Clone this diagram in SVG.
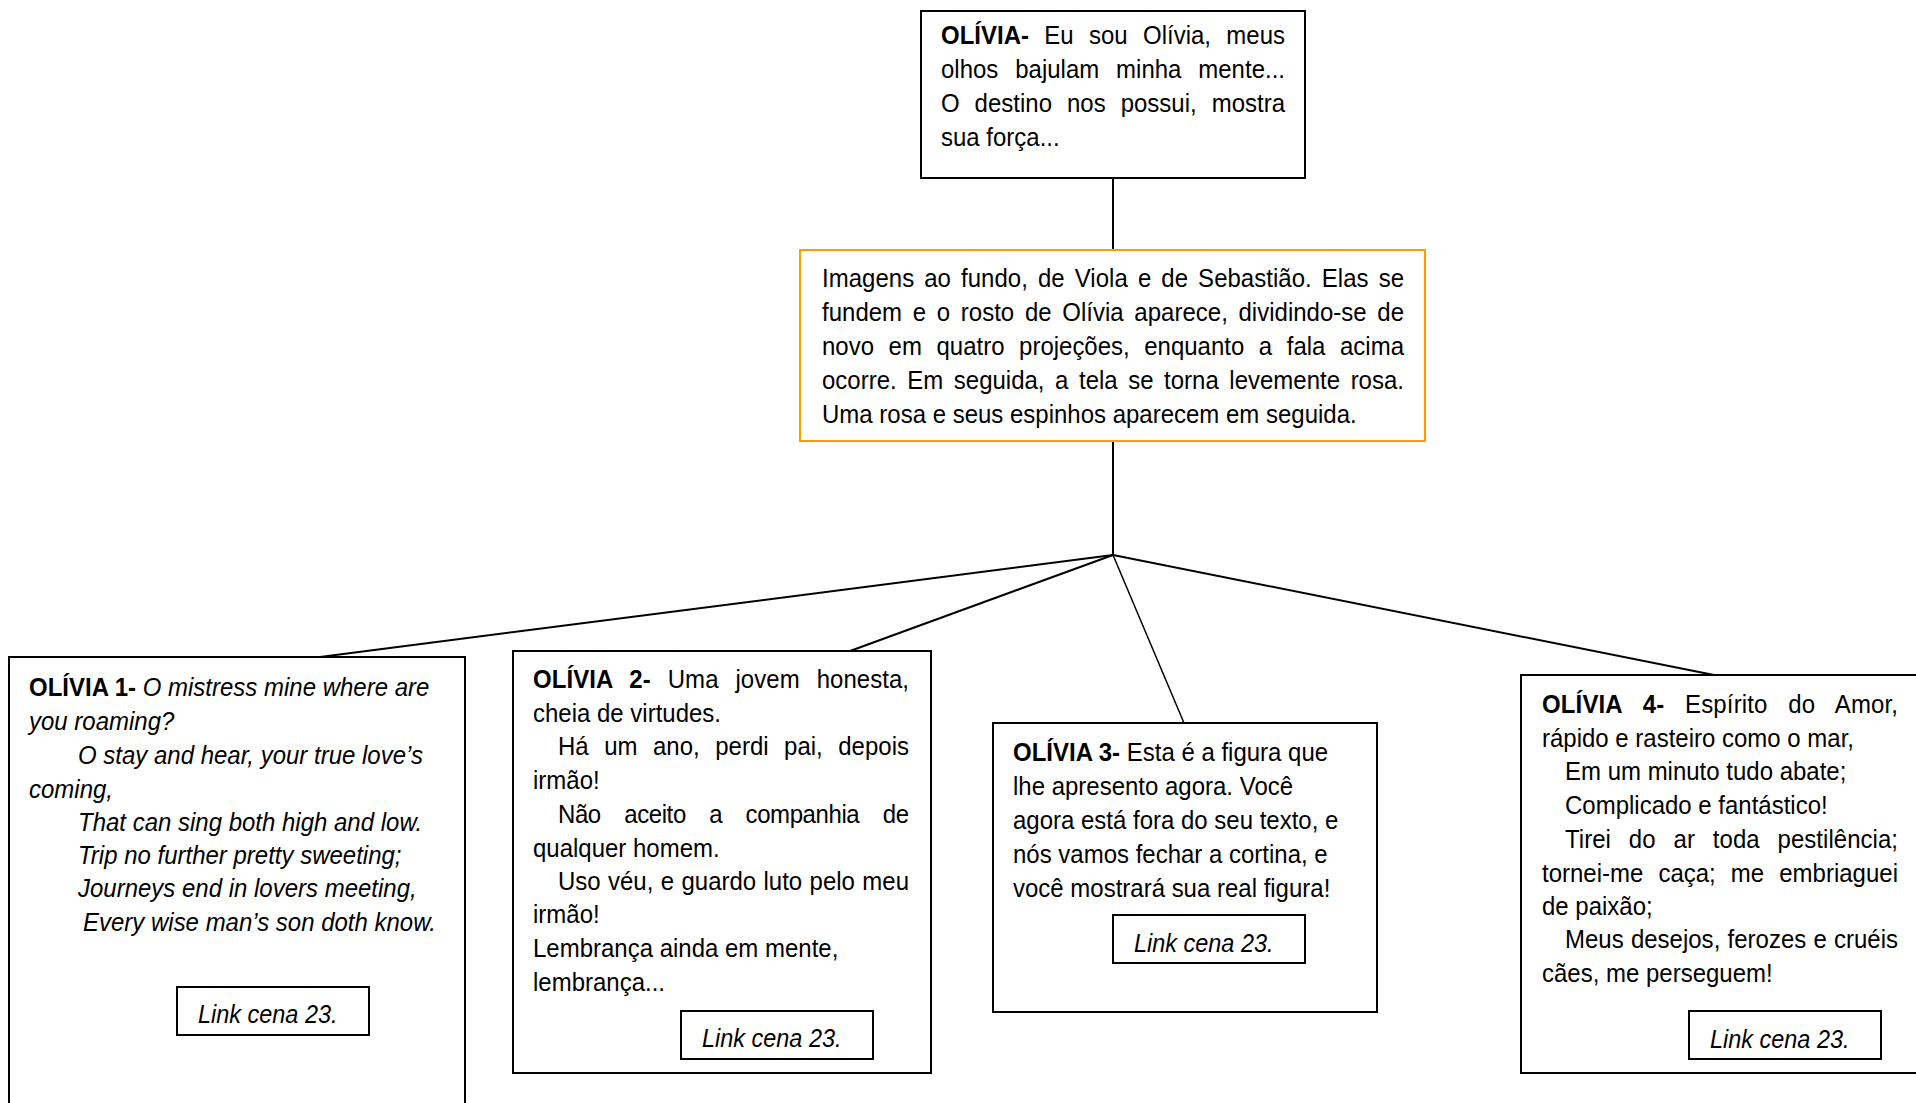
<svg xmlns="http://www.w3.org/2000/svg" width="1916" height="1103" viewBox="0 0 1916 1103">
<style>
.t{font-family:"Liberation Sans",Arial,sans-serif;font-size:25.5px;fill:#000}
.b{font-weight:bold}
.i{font-style:italic}
.box{fill:#fff;stroke:#000;stroke-width:2}
.obox{fill:#fff;stroke:#FF9A00;stroke-width:2}
.conn{stroke:#000;stroke-width:2;fill:none}
</style>
<rect width="1916" height="1103" fill="#fff"/>
<g id="connectors">
<path class="conn" d="M1113 178V250"/>
<path class="conn" d="M1113 441V555"/>
<path class="conn" d="M1113 555L320 657"/>
<path class="conn" d="M1113 555L850 651"/>
<path class="conn" d="M1113 555L1184 723" style="stroke-width:1.5"/>
<path class="conn" d="M1113 555L1714 675"/>
</g>
<g id="olivia">
<rect class="box" x="921" y="11" width="384" height="167"/>
<text class="t" transform="translate(941 44) scale(.941 1)" word-spacing="9.1" textLength="365.6" lengthAdjust="spacing"><tspan class="b">OLÍVIA-</tspan> Eu sou Olívia, meus</text>
<text class="t" transform="translate(941 78) scale(.941 1)" word-spacing="10.8" textLength="365.6" lengthAdjust="spacing">olhos bajulam minha mente...</text>
<text class="t" transform="translate(941 112) scale(.941 1)" word-spacing="8.8" textLength="365.6" lengthAdjust="spacing">O destino nos possui, mostra</text>
<text class="t" transform="translate(941 146) scale(.941 1)">sua força...</text>
</g>
<g id="cena">
<rect class="obox" x="800" y="250" width="625" height="191"/>
<text class="t" transform="translate(822 287) scale(.941 1)" word-spacing="3.6" textLength="618.5" lengthAdjust="spacing">Imagens ao fundo, de Viola e de Sebastião. Elas se</text>
<text class="t" transform="translate(822 321) scale(.941 1)" word-spacing="4.25" textLength="618.5" lengthAdjust="spacing">fundem e o rosto de Olívia aparece, dividindo-se de</text>
<text class="t" transform="translate(822 355) scale(.941 1)" word-spacing="8.4" textLength="618.5" lengthAdjust="spacing">novo em quatro projeções, enquanto a fala acima</text>
<text class="t" transform="translate(822 389) scale(.941 1)" word-spacing="4.1" textLength="618.5" lengthAdjust="spacing">ocorre. Em seguida, a tela se torna levemente rosa.</text>
<text class="t" transform="translate(822 423) scale(.941 1)">Uma rosa e seus espinhos aparecem em seguida.</text>
</g>
<g id="olivia1">
<rect class="box" x="9" y="657" width="456" height="470"/>
<text class="t" transform="translate(29 696) scale(.941 1)"><tspan class="b">OLÍVIA 1-</tspan><tspan class="i"> O mistress mine where are</tspan></text>
<text class="t i" transform="translate(29 730) scale(.941 1)">you roaming?</text>
<text class="t i" transform="translate(78 764) scale(.941 1)">O stay and hear, your true love’s</text>
<text class="t i" transform="translate(29 798) scale(.941 1)">coming,</text>
<text class="t i" transform="translate(78 831) scale(.941 1)">That can sing both high and low.</text>
<text class="t i" transform="translate(78 864) scale(.941 1)">Trip no further pretty sweeting;</text>
<text class="t i" transform="translate(78 897) scale(.941 1)">Journeys end in lovers meeting,</text>
<text class="t i" transform="translate(83 931) scale(.941 1)">Every wise man’s son doth know.</text>
<g id="link1">
<rect class="box" x="177" y="987" width="192" height="48"/>
<text class="t i" transform="translate(198 1023) scale(.92 1)">Link cena 23.</text>
</g>
</g>
<g id="olivia2">
<rect class="box" x="513" y="651" width="418" height="422"/>
<text class="t" transform="translate(533 688) scale(.941 1)" word-spacing="10.9" textLength="399.6" lengthAdjust="spacing"><tspan class="b">OLÍVIA 2-</tspan> Uma jovem honesta,</text>
<text class="t" transform="translate(533 722) scale(.941 1)">cheia de virtudes.</text>
<text class="t" transform="translate(558 755) scale(.941 1)" word-spacing="9.35" textLength="373" lengthAdjust="spacing">Há um ano, perdi pai, depois</text>
<text class="t" transform="translate(533 789) scale(.941 1)">irmão!</text>
<text class="t" transform="translate(558 823) scale(.941 1)" word-spacing="18.2" textLength="373" lengthAdjust="spacing">Não aceito a companhia de</text>
<text class="t" transform="translate(533 857) scale(.941 1)">qualquer homem.</text>
<text class="t" transform="translate(558 890) scale(.941 1)" word-spacing="0.74" textLength="373" lengthAdjust="spacing">Uso véu, e guardo luto pelo meu</text>
<text class="t" transform="translate(533 923) scale(.941 1)">irmão!</text>
<text class="t" transform="translate(533 957) scale(.941 1)">Lembrança ainda em mente,</text>
<text class="t" transform="translate(533 991) scale(.941 1)">lembrança...</text>
<g id="link2">
<rect class="box" x="681" y="1011" width="192" height="48"/>
<text class="t i" transform="translate(702 1047) scale(.92 1)">Link cena 23.</text>
</g>
</g>
<g id="olivia3">
<rect class="box" x="993" y="723" width="384" height="289"/>
<text class="t" transform="translate(1013 761) scale(.941 1)"><tspan class="b">OLÍVIA 3-</tspan> Esta é a figura que</text>
<text class="t" transform="translate(1013 795) scale(.941 1)">lhe apresento agora. Você</text>
<text class="t" transform="translate(1013 829) scale(.941 1)">agora está fora do seu texto, e</text>
<text class="t" transform="translate(1013 863) scale(.941 1)">nós vamos fechar a cortina, e</text>
<text class="t" transform="translate(1013 897) scale(.941 1)">você mostrará sua real figura!</text>
<g id="link3">
<rect class="box" x="1113" y="915" width="192" height="48"/>
<text class="t i" transform="translate(1134 952) scale(.92 1)">Link cena 23.</text>
</g>
</g>
<g id="olivia4">
<rect class="box" x="1521" y="675" width="420" height="398"/>
<text class="t" transform="translate(1542 713) scale(.941 1)" word-spacing="14.9" textLength="378.3" lengthAdjust="spacing"><tspan class="b">OLÍVIA 4-</tspan> Espírito do Amor,</text>
<text class="t" transform="translate(1542 747) scale(.941 1)">rápido e rasteiro como o mar,</text>
<text class="t" transform="translate(1565 780) scale(.941 1)">Em um minuto tudo abate;</text>
<text class="t" transform="translate(1565 814) scale(.941 1)">Complicado e fantástico!</text>
<text class="t" transform="translate(1565 848) scale(.941 1)" word-spacing="11.9" textLength="353.9" lengthAdjust="spacing">Tirei do ar toda pestilência;</text>
<text class="t" transform="translate(1542 882) scale(.941 1)" word-spacing="8.9" textLength="378.3" lengthAdjust="spacing">tornei-me caça; me embriaguei</text>
<text class="t" transform="translate(1542 915) scale(.941 1)">de paixão;</text>
<text class="t" transform="translate(1565 948) scale(.941 1)" word-spacing="0.53" textLength="353.9" lengthAdjust="spacing">Meus desejos, ferozes e cruéis</text>
<text class="t" transform="translate(1542 982) scale(.941 1)">cães, me perseguem!</text>
<g id="link4">
<rect class="box" x="1689" y="1011" width="192" height="48"/>
<text class="t i" transform="translate(1710 1048) scale(.92 1)">Link cena 23.</text>
</g>
</g>
</svg>
